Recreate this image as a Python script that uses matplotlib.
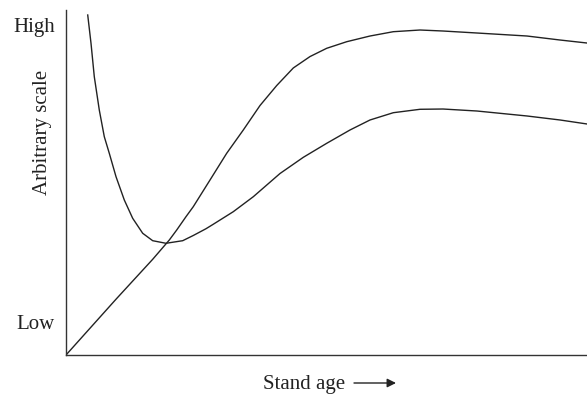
import matplotlib.pyplot as plt

# values (x: stand age 0-100, y: arbitrary 0-100)
rise_x = [0, 9.60, 16.64, 19.83, 21.25, 23.03, 24.43, 27.64, 30.84, 34.03, 37.24, 40.44,
          43.63, 46.83, 50.04, 53.88, 58.35, 62.82, 67.95, 72.36, 78.89, 88.48, 94.82, 100]
rise_y = [0, 16.17, 27.74, 33.33, 36.23, 40.09, 42.99, 50.72, 58.46, 65.22, 72.32, 78.1,
          83.2, 86.5, 88.90, 90.81, 92.46, 93.71, 94.20, 93.91, 93.33, 92.46, 91.30, 90.43]

u_x = [4.17, 4.80, 5.43, 6.39, 7.35, 8.31, 9.60, 11.19, 12.80, 14.72, 16.64, 19.19, 22.40,
       24.43, 26.87, 28.27, 32.11, 35.95, 41.07, 45.55, 50.04, 54.51, 58.35, 62.82, 67.95,
       72.36, 78.89, 88.48, 94.82, 100]
u_y = [98.55, 90.35, 80.67, 71.01, 63.28, 58.46, 51.68, 44.93, 39.62, 35.28, 33.13, 32.38, 33.13,
       34.64, 36.6, 37.9, 41.54, 45.88, 52.6, 57.3, 61.36, 65.22, 68.12, 70.23, 71.22,
       71.30, 70.72, 69.28, 68.12, 66.96]

tick_pos = [9.6, 95.7]
tick_labels = ['Low', 'High']

plt.rcParams['font.family'] = ['Liberation Serif', 'DejaVu Serif']

fig = plt.figure(figsize=(5.87, 3.98), dpi=100)
ax = fig.add_axes([66 / 587, 43 / 398, 521 / 587, 345 / 398])

ax.plot(rise_x, rise_y, color='#222222', lw=1.0, solid_joinstyle='round')
ax.plot(u_x, u_y, color='#222222', lw=1.0, solid_joinstyle='round')

ax.set_xlim(0, 100)
ax.set_ylim(0, 100)
ax.spines['top'].set_visible(False)
ax.spines['right'].set_visible(False)
for s in ('left', 'bottom'):
    ax.spines[s].set_color('#333333')
    ax.spines[s].set_linewidth(1.0)

ax.set_xticks([])
ax.set_yticks(tick_pos)
ax.set_yticklabels(tick_labels, fontsize=15, color='#222222')
ax.tick_params(axis='y', length=0, pad=8)

fig.text(42 / 587, 1 - 132 / 398, 'Arbitrary scale', rotation=90,
         ha='center', va='center', fontsize=15, color='#222222')
fig.text(263 / 587, 1 - 384 / 398, 'Stand age', ha='left', va='center',
         fontsize=15, color='#222222')
ax.annotate('', xy=(396 / 587, 1 - 383 / 398), xytext=(354 / 587, 1 - 383 / 398),
            xycoords='figure fraction', textcoords='figure fraction',
            arrowprops=dict(arrowstyle='-|>', color='#222222', lw=1.0,
                            mutation_scale=13, shrinkA=0, shrinkB=0))

fig.savefig('out.png', dpi=100)
